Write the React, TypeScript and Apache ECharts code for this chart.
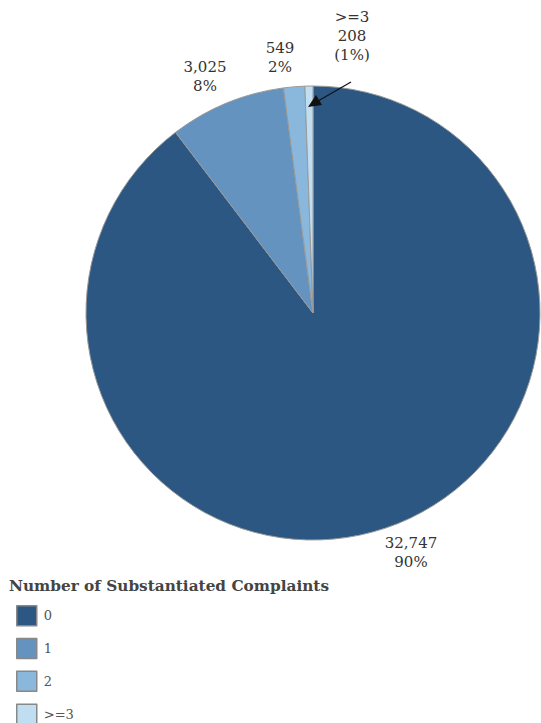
import React, { useEffect, useRef } from "react";
import * as echarts from "echarts";

const categories = ["0", "1", "2", ">=3"];
const values = [32747, 3025, 549, 208];
const colors = ["#2B5782", "#6493BF", "#8AB8DD", "#C0DEF1"];
const legendTitle = "Number of Substantiated Complaints";

const FONT = "'DejaVu Serif', 'Liberation Serif', serif";

export default function App() {
  const ref = useRef<HTMLDivElement>(null);
  useEffect(() => {
    if (!ref.current) return;
    const chart = echarts.init(ref.current, undefined, { renderer: "svg" });
    const total = values.reduce((a, b) => a + b, 0);
    const fmt = (v: number) => v.toLocaleString("en-US");
    const labelPos: Record<number, [number, number]> = {
      0: [411, 552],
      1: [205, 76],
      2: [280, 57],
      3: [352, 36],
    };
    chart.setOption({
      animation: false,
      title: {
        text: legendTitle,
        left: 9,
        top: 578,
        padding: 0,
        textStyle: { fontFamily: FONT, fontSize: 15.3, fontWeight: "bold", color: "#444" },
      },
      legend: {
        orient: "vertical",
        left: 16,
        top: 605,
        height: 300,
        padding: 0,
        itemWidth: 20,
        itemHeight: 20,
        itemGap: 11.3,
        icon: "rect",
        itemStyle: { borderColor: "#888", borderWidth: 1.5 },
        textStyle: { fontFamily: FONT, fontSize: 13, lineHeight: 18, color: "#555", padding: [0, 0, 0, 2] },
        data: categories,
      },
      series: [
        {
          type: "pie",
          center: [313, 313],
          radius: 227,
          startAngle: 90,
          clockwise: true,
          avoidLabelOverlap: false,
          itemStyle: { borderColor: "#999", borderWidth: 1 },
          emphasis: { disabled: true },
          data: categories.map((c, i) => ({
            name: c,
            value: values[i],
            itemStyle: { color: colors[i] },
          })),
          label: {
            show: true,
            position: "outside",
            fontFamily: FONT,
            fontSize: 15,
            lineHeight: 19,
            color: "#333",
            align: "center",
            formatter: (p: any) => {
              const pct = Math.round((p.value / total) * 100);
              if (p.dataIndex === 3) return `${p.name}\n${fmt(p.value)}\n(${pct}%)`;
              return `${fmt(p.value)}\n${pct}%`;
            },
          },
          labelLine: { show: false },
          labelLayout: (params: any) => {
            const pos = labelPos[params.dataIndex];
            return {
              x: pos[0],
              y: pos[1],
              align: "center",
              verticalAlign: "middle",
            };
          },
        },
      ],
      graphic: [
        {
          type: "line",
          z: 100,
          shape: { x1: 351, y1: 82, x2: 318, y2: 101 },
          style: { stroke: "#111", lineWidth: 1.2 },
        },
        {
          type: "polygon",
          z: 100,
          shape: { points: [[308, 107], [316, 95], [322, 105]] },
          style: { fill: "#111" },
        },
      ],
    });
    return () => chart.dispose();
  }, []);
  return (
    <div
      ref={ref}
      style={{ position: "fixed", left: 0, top: 0, width: 541, height: 723, background: "#fff" }}
    />
  );
}
